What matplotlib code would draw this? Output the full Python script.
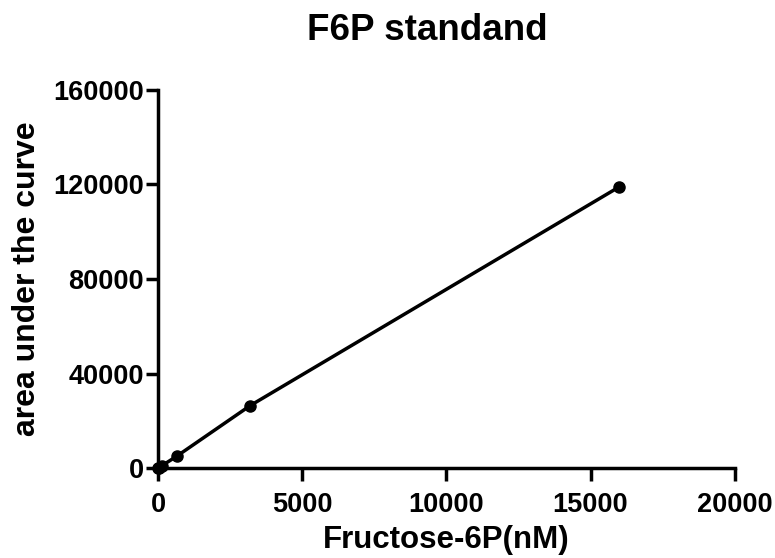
import matplotlib
matplotlib.use('Agg')
import matplotlib.pyplot as plt

conc = [0, 25.6, 128, 640, 3200, 16000]
area = [0, 200, 1000, 5000, 26500, 119000]

xticks = [0, 5000, 10000, 15000, 20000]
yticks = [0, 40000, 80000, 120000, 160000]

plt.rcParams['font.family'] = ['Liberation Sans', 'DejaVu Sans']
plt.rcParams['font.weight'] = 'bold'

fig = plt.figure(figsize=(7.75, 5.58), dpi=100)
ax = fig.add_axes([0.204, 0.161, 0.744, 0.678])

ax.plot(conc, area, color='black', lw=2.5, marker='o', markersize=8, clip_on=False, zorder=3)

ax.set_xlim(0, 20000)
ax.set_ylim(0, 160000)
ax.set_xticks(xticks)
ax.set_yticks(yticks)
ax.set_xticklabels([str(t) for t in xticks], fontsize=19.5, fontweight='bold')
ax.set_yticklabels([str(t) for t in yticks], fontsize=19.5, fontweight='bold')

for s in ['top', 'right']:
    ax.spines[s].set_visible(False)
for s in ['left', 'bottom']:
    ax.spines[s].set_linewidth(2.5)
ax.tick_params(direction='out', length=9, width=2.5)
ax.tick_params(axis='x', pad=8)
ax.tick_params(axis='y', pad=1)

ax.set_xlabel('Fructose-6P(nM)', fontsize=22.5, fontweight='bold', labelpad=5)
ax.set_ylabel('area under the curve', fontsize=23, fontweight='bold', labelpad=8)
fig.text(0.551, 0.945, 'F6P standand', fontsize=26.5, fontweight='bold', ha='center', va='center')

fig.savefig('out.png', dpi=100)
